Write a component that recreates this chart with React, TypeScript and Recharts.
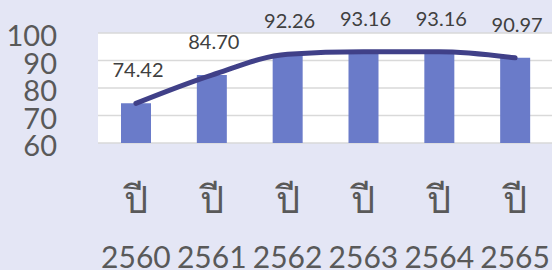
import { ComposedChart, Bar, Line, XAxis, YAxis, CartesianGrid, LabelList } from 'recharts';

const years = ['2560', '2561', '2562', '2563', '2564', '2565'];
const values = [74.42, 84.7, 92.26, 93.16, 93.16, 90.97];
const yTicks = [60, 70, 80, 90, 100];

const data = years.map((year, i) => ({ year, value: values[i] }));

const FONT = "Lato, 'Noto Sans', 'DejaVu Sans', sans-serif";

const YTick = ({ y, payload }: any) => (
  <text x={57} y={y + 13} textAnchor="end" fontSize={29} fill="#595959" fontFamily={FONT}>
    {payload.value}
  </text>
);

// tick y arrives already offset by tickSize + tickMargin (8px below the plot)
const XTick = ({ x, y, payload }: any) => (
  <g>
    <text x={x} y={y + 62} textAnchor="middle" fontSize={38} fill="#595959" fontFamily={FONT}>
      ปี
    </text>
    <text x={x} y={y + 117} textAnchor="middle" fontSize={30} fill="#595959" fontFamily={FONT}>
      {payload.value}
    </text>
  </g>
);

const ValueLabel = ({ x, y, width, value }: any) => (
  <text x={x + width / 2 + 2} y={y - 26} textAnchor="middle" fontSize={20} fill="#404040" fontFamily={FONT}>
    {Number(value).toFixed(2)}
  </text>
);

export default function App() {
  return (
    <div style={{ position: 'absolute', left: 0, top: 0, width: 552, height: 270, background: '#E4E6F5', overflow: 'hidden' }}>
      <ComposedChart width={553} height={270} data={data} margin={{ top: 33, right: 0, bottom: 0, left: 0 }}>
        <CartesianGrid vertical={false} fill="#ffffff" stroke="#D9D9D9" strokeWidth={1.5} />
        <XAxis dataKey="year" axisLine={false} tickLine={false} height={127} tick={<XTick />} interval={0} />
        <YAxis
          domain={[60, 100]}
          ticks={yTicks}
          axisLine={false}
          tickLine={false}
          width={98}
          tick={<YTick />}
        />
        <Bar dataKey="value" fill="#6A7BC9" barSize={30} isAnimationActive={false}>
          <LabelList dataKey="value" content={<ValueLabel />} />
        </Bar>
        <Line
          dataKey="value"
          type="monotone"
          stroke="#404088"
          strokeWidth={5}
          strokeLinecap="round"
          dot={false}
          activeDot={false}
          isAnimationActive={false}
        />
      </ComposedChart>
    </div>
  );
}
